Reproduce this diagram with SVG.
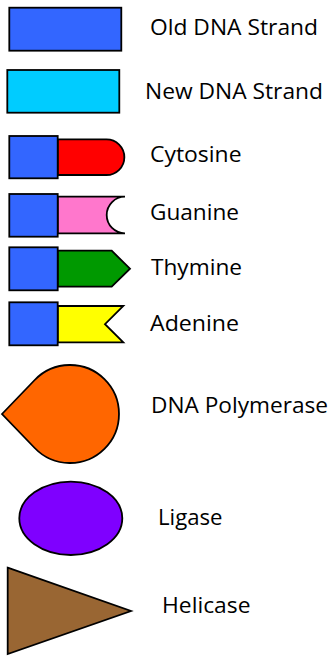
<svg xmlns="http://www.w3.org/2000/svg" width="332" height="658" viewBox="0 0 332 658">
<style>
.s{stroke:#000;stroke-width:1.8;stroke-linejoin:miter}
.b{fill:#3366FF}
.t{font-family:"Open Sans","Noto Sans","Liberation Sans",sans-serif;font-size:21.5px;fill:#000}
</style>
<rect width="332" height="658" fill="#fff"/>
<g id="old-dna-strand">
<rect class="s b" x="9.3" y="7.7" width="112" height="43"/>
<text class="t" x="150" y="35" textLength="168" lengthAdjust="spacingAndGlyphs">Old DNA Strand</text>
</g>
<g id="new-dna-strand">
<rect class="s" fill="#00CCFF" x="7.3" y="70" width="112" height="42.7"/>
<text class="t" x="145" y="99.3" textLength="178" lengthAdjust="spacingAndGlyphs">New DNA Strand</text>
</g>
<g id="cytosine">
<path class="s" fill="#FF0000" d="M57.7,139.3 H106.5 A17.85,17.85 0 0 1 106.5,175 H57.7 Z"/>
<rect class="s b" x="9.3" y="136" width="48.4" height="42.3"/>
<text class="t" x="150" y="161.7" textLength="91.5" lengthAdjust="spacingAndGlyphs">Cytosine</text>
</g>
<g id="guanine">
<path class="s" fill="#FF77CC" d="M57.7,196.7 H125 A18.3,18.3 0 0 0 125,233.3 H57.7 Z"/>
<rect class="s b" x="9.3" y="194" width="48.4" height="42.7"/>
<text class="t" x="150" y="220" textLength="89" lengthAdjust="spacingAndGlyphs">Guanine</text>
</g>
<g id="thymine">
<polygon class="s" fill="#009900" points="57.7,250.7 111.7,250.7 130,268.7 111.7,286.7 57.7,286.7"/>
<rect class="s b" x="9.3" y="247.3" width="48.4" height="43"/>
<text class="t" x="151" y="275" textLength="91" lengthAdjust="spacingAndGlyphs">Thymine</text>
</g>
<g id="adenine">
<polygon class="s" fill="#FFFF00" points="57.7,306 123.3,306 105,324.2 123.3,342.3 57.7,342.3"/>
<rect class="s b" x="9.3" y="302.3" width="48.4" height="43"/>
<text class="t" x="150" y="331" textLength="89" lengthAdjust="spacingAndGlyphs">Adenine</text>
</g>
<g id="dna-polymerase">
<path class="s" fill="#FF6600" d="M2,414 L34.7,380 A49,49 0 1 1 34.7,448 Z"/>
<text class="t" x="151" y="413.3" textLength="177" lengthAdjust="spacingAndGlyphs">DNA Polymerase</text>
</g>
<g id="ligase">
<ellipse class="s" fill="#7F00FF" cx="70.8" cy="518.3" rx="51.5" ry="36.7"/>
<text class="t" x="158" y="525" textLength="64.5" lengthAdjust="spacingAndGlyphs">Ligase</text>
</g>
<g id="helicase">
<polygon class="s" fill="#996633" points="7.7,567.7 131,611 7.7,654"/>
<text class="t" x="162" y="613.3" textLength="88.5" lengthAdjust="spacingAndGlyphs">Helicase</text>
</g>
<g id="connectors"></g>
</svg>
